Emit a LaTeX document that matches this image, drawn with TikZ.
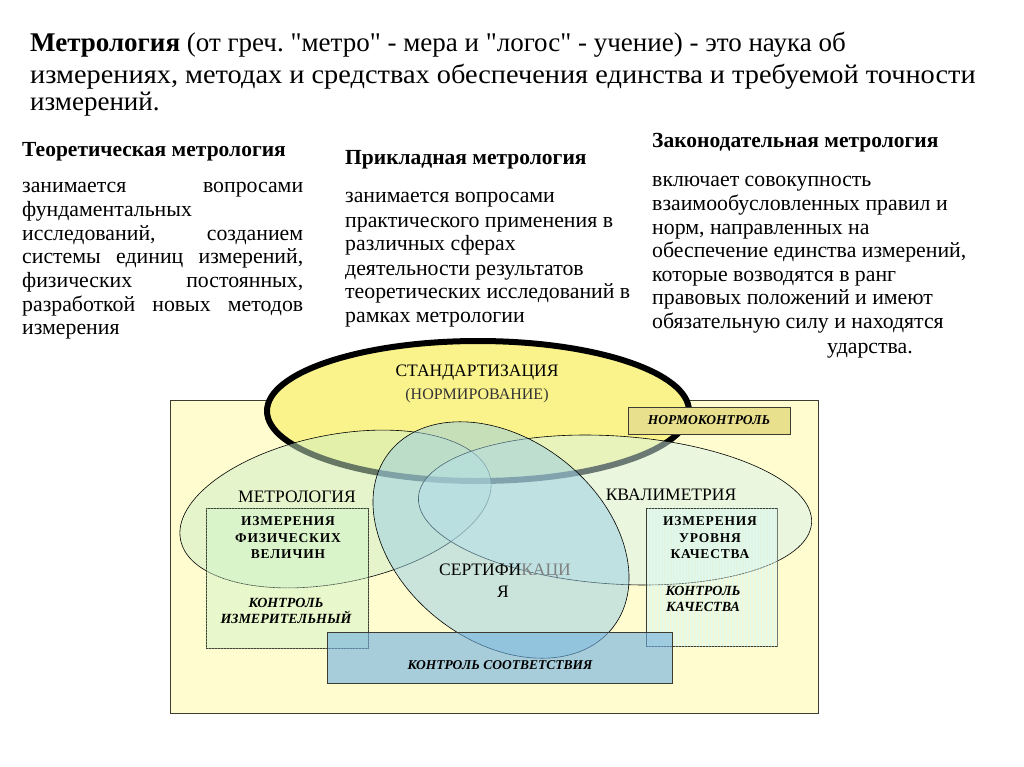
\documentclass[tikz,border=0pt]{standalone}
\usepackage{fontspec}
\setmainfont{Liberation Serif}[Ligatures=TeXOff]
\frenchspacing
\usetikzlibrary{patterns}
\definecolor{bgyel}{RGB}{255,252,208}
\definecolor{stdyel}{RGB}{250,243,140}
\definecolor{metcol}{RGB}{205,238,200}
\definecolor{kvacol}{RGB}{215,242,235}
\definecolor{sertcol}{RGB}{150,205,230}
\definecolor{normcol}{RGB}{232,224,140}
\definecolor{soocol}{RGB}{110,175,225}
\definecolor{frame}{RGB}{60,60,50}
\tikzset{
  titlefont/.style={font=\fontsize{27}{31}\selectfont},
  headfont/.style={font=\fontsize{21.5}{24}\selectfont\bfseries},
  bodyfont/.style={font=\fontsize{21.8}{24}\selectfont},
  txt/.style={anchor=base west, inner sep=0pt},
  thinell/.style={draw=black, line width=0.6pt, fill opacity=0.5, draw opacity=1},
  bigcap/.style={font=\fontsize{17.5}{20}\selectfont, inner sep=0pt},
  boxb/.style={font=\fontsize{13.5}{16.5}\selectfont\bfseries\addfontfeatures{LetterSpace=6}, align=center, inner sep=0pt},
  boxbi/.style={font=\fontsize{14}{16.5}\selectfont\bfseries\itshape, align=center, inner sep=0pt},
  panel/.style={draw=frame, line width=1pt}
}
\begin{document}
\begin{tikzpicture}[x=1pt,y=-1pt]
\useasboundingbox[fill=white] (0,0) rectangle (1024,767);
% ---------------- top text ----------------
\node[txt,titlefont] (t1) at (30,51.5) {\textbf{Метрология} (от греч. "метро" - мера и "логос" - учение) - это наука об};
\node[txt,titlefont] (t2) at (30,83.5) {\addfontfeature{FakeStretch=1.05}измерениях, методах и средствах обеспечения единства и требуемой точности};
\node[txt,titlefont] (t3) at (30,110.5) {измерений.};
% theoretical
\node[txt,headfont] (h1) at (22,157) {Теоретическая метрология};
\node[txt,bodyfont] (a1) at (22,193) {\makebox[281pt][s]{занимается\hfill вопросами}};
\node[txt,bodyfont] (a2) at (22,216.6) {фундаментальных};
\node[txt,bodyfont] (a3) at (22,240.2) {\makebox[281pt][s]{исследований,\hfill созданием}};
\node[txt,bodyfont] (a4) at (22,263.8) {\makebox[281pt][s]{системы\hfill единиц\hfill измерений,}};
\node[txt,bodyfont] (a5) at (22,287.4) {\makebox[281pt][s]{физических\hfill постоянных,}};
\node[txt,bodyfont] (a6) at (22,311) {\makebox[281pt][s]{разработкой\hfill новых\hfill методов}};
\node[txt,bodyfont] (a7) at (22,334.6) {измерения};
% applied
\node[txt,headfont] (h2) at (345,165) {Прикладная метрология};
\node[txt,bodyfont] (b1) at (345,203) {занимается вопросами};
\node[txt,bodyfont] (b2) at (345,227) {практического применения в};
\node[txt,bodyfont] (b3) at (345,251) {различных сферах};
\node[txt,bodyfont] (b4) at (345,275) {деятельности результатов};
\node[txt,bodyfont] (b5) at (345,298.5) {теоретических исследований в};
\node[txt,bodyfont] (b6) at (345,322) {рамках метрологии};
% legislative
\node[txt,headfont] (h3) at (652,148) {Законодательная метрология};
\node[txt,bodyfont] (c1) at (652,187) {включает совокупность};
\node[txt,bodyfont] (c2) at (652,210.5) {взаимообусловленных правил и};
\node[txt,bodyfont] (c3) at (652,234) {норм, направленных на};
\node[txt,bodyfont] (c4) at (652,257.5) {обеспечение единства измерений,};
\node[txt,bodyfont] (c5) at (652,281) {которые возводятся в ранг};
\node[txt,bodyfont] (c6) at (652,304.5) {правовых положений и имеют};
\node[txt,bodyfont] (c7) at (652,328) {обязательную силу и находятся};
\node[txt,bodyfont] (c8) at (827,353) {ударства.};
% ---------------- diagram ----------------
\draw[panel, fill=bgyel] (170,400) rectangle (818,713);
% standardization
\draw[line width=6pt, fill=stdyel] (478,411) ellipse [x radius=211, y radius=70];
\node[panel, fill=normcol, minimum width=162pt, minimum height=27pt, inner sep=0pt,
      font=\fontsize{13.5}{16}\selectfont\bfseries\itshape] (norm) at (709,420.5) {НОРМОКОНТРОЛЬ};
% metrology, qualimetry, certification
\draw[thinell, fill=metcol, rotate around={11.3:(335.5,509)}] (335.5,509) ellipse [x radius=158, y radius=74];
\draw[thinell, fill=kvacol, rotate around={-3.8:(615,510)}] (615,510) ellipse [x radius=197, y radius=74];
\draw[thinell, fill=sertcol, rotate around={-38:(501,540)}] (501,540) ellipse [x radius=142, y radius=101];
% boxes
\node[draw=frame, line width=1pt, fill=metcol, fill opacity=0.3, text opacity=1,
      minimum width=162pt, minimum height=140pt, inner sep=0pt] (mbox) at (287,578) {};
\fill[pattern=north east lines, pattern color=green!20!white, opacity=0.5] (mbox.south west) rectangle (mbox.north east);
\node[draw=frame, line width=1pt, fill=kvacol, fill opacity=0.4, text opacity=1,
      minimum width=131pt, minimum height=138pt, inner sep=0pt] (kbox) at (711.5,577) {};
\fill[pattern=vertical lines, pattern color=cyan!15!white, opacity=0.5] (kbox.south west) rectangle (kbox.north east);
\node[draw=frame, line width=1pt, fill=soocol, fill opacity=0.6, text opacity=1,
      minimum width=345pt, minimum height=51pt, inner sep=0pt] (sbox) at (499.5,657.5) {};
% labels
\node[bigcap] (lstd1) at (477,373) {СТАНДАРТИЗАЦИЯ};
\node[bigcap, font=\fontsize{16}{19}\selectfont, text=black!80] (lstd2) at (477,396) {(НОРМИРОВАНИЕ)};
\node[bigcap] (lmet) at (297,497) {МЕТРОЛОГИЯ};
\node[bigcap] (lkva) at (671,495) {КВАЛИМЕТРИЯ};
\node[bigcap] (lser1) at (505,572) {СЕРТИФИ{\color{black!50}КАЦИ}};
\node[bigcap] (lser2) at (503,592) {Я};
\node[boxb] (m1) at (288,538) {ИЗМЕРЕНИЯ\\ФИЗИЧЕСКИХ\\ВЕЛИЧИН};
\node[boxbi] (m2) at (286,611) {КОНТРОЛЬ\\ИЗМЕРИТЕЛЬНЫЙ};
\node[boxb] (k1) at (710,538) {ИЗМЕРЕНИЯ\\УРОВНЯ\\КАЧЕСТВА};
\node[boxbi] (k2) at (703,599) {КОНТРОЛЬ\\КАЧЕСТВА};
\node[boxbi, font=\fontsize{13.5}{16}\selectfont\bfseries\itshape] (s1) at (500,665) {КОНТРОЛЬ СООТВЕТСТВИЯ};
\end{tikzpicture}
\end{document}
